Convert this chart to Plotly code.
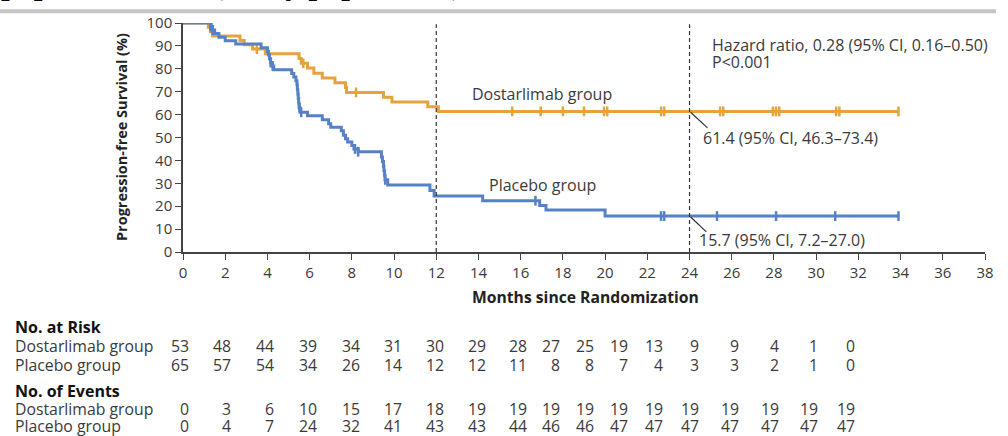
import plotly.graph_objects as go

# ---- data -------------------------------------------------------------
# Kaplan-Meier step points (months, % progression-free)
dostar_t = [0, 1.2, 1.3, 1.4, 2.7, 2.9, 3.3, 3.9, 5.5, 5.6, 5.9, 6.2, 6.6, 7.2, 7.7, 7.75,
            9.5, 9.9, 11.6, 12.1, 33.9]
dostar_s = [100, 98.1, 96.2, 94.3, 92.4, 90.5, 88.6, 86.6, 84.5, 82.4, 80.3, 78.1, 76.0, 73.9,
            71.8, 69.7, 67.6, 65.5, 63.4, 61.4, 61.4]
dostar_cens_t = [3.5, 5.7, 8.2, 15.6, 16.95, 18.0, 19.0, 19.95, 20.1, 22.65, 22.8, 25.45, 25.6,
                 27.95, 28.1, 28.25, 30.95, 31.1, 33.9]

placebo_t = [0, 1.3, 1.4, 1.5, 1.7, 2.0, 2.5, 3.7, 4.0, 4.05, 4.1, 4.15, 4.2, 4.3, 5.15, 5.25,
             5.35, 5.4, 5.42, 5.44, 5.46, 5.48, 5.5, 5.55, 5.9, 6.6, 6.9, 7.0, 7.5, 7.6, 7.7,
             7.8, 8.0, 8.1, 8.3, 9.4, 9.45, 9.5, 9.52, 9.55, 9.57, 9.7, 11.7, 11.9, 14.2,
             16.9, 17.2, 20.0, 33.9]
placebo_s = [100, 98.5, 96.9, 95.4, 93.8, 92.3, 90.8, 89.2, 87.6, 86.0, 84.4, 82.8, 81.2, 79.6,
             78.0, 76.4, 74.8, 73.0, 71.0, 69.0, 67.0, 65.0, 63.0, 61.0, 59.5, 57.8, 56.0, 54.5,
             53.0, 51.0, 49.5, 48.0, 46.5, 45.0, 43.8, 41.5, 39.5, 37.5, 35.5, 33.5, 31.5, 29.3,
             26.9, 24.4, 22.4, 20.3, 18.3, 15.7, 15.7]
placebo_cens_t = [1.3, 1.35, 1.4, 4.15, 4.25, 5.52, 5.6, 8.15, 8.3, 9.58, 16.7, 22.65, 22.8,
                  25.3, 28.1, 30.9, 33.9]

months_ticks = list(range(0, 39, 2))
risk_months = list(range(0, 35, 2))
risk_dostar = [53, 48, 44, 39, 34, 31, 30, 29, 28, 27, 25, 19, 13, 9, 9, 4, 1, 0]
risk_placebo = [65, 57, 54, 34, 26, 14, 12, 12, 11, 8, 8, 7, 4, 3, 3, 2, 1, 0]
events_dostar = [0, 3, 6, 10, 15, 17, 18, 19, 19, 19, 19, 19, 19, 19, 19, 19, 19, 19]
events_placebo = [0, 4, 7, 24, 32, 41, 43, 43, 44, 46, 46, 47, 47, 47, 47, 47, 47, 47]

# ---- styling ----------------------------------------------------------
ORANGE = "#E6A23C"
BLUE = "#5681C6"
TXT = "#3a3a3a"
FONT = "Open Sans"

W, H = 1008, 436
L, R, T, B = 183, 23, 19, 184
PW, PH = W - L - R, H - T - B


def px(x):
    return (x - L) / PW


def py(y):
    return (H - B - y) / PH


def step_value(ts, ss, t):
    val = ss[0]
    for ti, si in zip(ts, ss):
        if ti <= t:
            val = si
    return val


fig = go.Figure()

for ts, ss, cens, col, name in [
    (dostar_t, dostar_s, dostar_cens_t, ORANGE, "Dostarlimab group"),
    (placebo_t, placebo_s, placebo_cens_t, BLUE, "Placebo group"),
]:
    fig.add_trace(go.Scatter(x=ts, y=ss, mode="lines", line=dict(color=col, width=3, shape="hv"),
                             name=name, showlegend=False, hoverinfo="skip"))
    fig.add_trace(go.Scatter(x=cens, y=[step_value(ts, ss, c) for c in cens], mode="markers",
                             marker=dict(symbol="line-ns", size=7,
                                         line=dict(color=col, width=2.5)),
                             showlegend=False, hoverinfo="skip"))

# dashed reference lines at 12 and 24 months
for m in (12, 24):
    fig.add_shape(type="line", x0=m, x1=m, y0=0, y1=99.5, xref="x", yref="y",
                  line=dict(color="#333333", width=1.2, dash="4px,3px"))

# leader lines to the 24-month estimates
fig.add_shape(type="line", x0=24.05, y0=61.0, x1=24.85, y1=54.2, line=dict(color="#333", width=1.2))
fig.add_shape(type="line", x0=24.05, y0=15.3, x1=24.8, y1=8.8, line=dict(color="#333", width=1.2))

ann = []


def text(x, y, s, size=16, bold=False, xanchor="left", xref="x", yref="y", color=TXT, **kw):
    ann.append(dict(x=x, y=y, xref=xref, yref=yref, text=f"<b>{s}</b>" if bold else s,
                    showarrow=False, xanchor=xanchor, yanchor="middle",
                    font=dict(family=FONT, size=size, color=color), **kw))


text(24.98, 90.3, "Hazard ratio, 0.28 (95% CI, 0.16–0.50)")
text(24.98, 83.0, "P<0.001")
text(13.6, 68.8, "Dostarlimab group")
text(14.4, 29.3, "Placebo group")
text(24.55, 50.0, "61.4 (95% CI, 46.3–73.4)")
text(24.35, 5.3, "15.7 (95% CI, 7.2–27.0)")

# axis titles
text(px(121), py(135), "Progression-free Survival (%)", size=14.5, bold=True, xanchor="center",
     xref="paper", yref="paper", textangle=-90, color="#222")
text(px(585), py(298), "Months since Randomization", size=15.7, bold=True, xanchor="center",
     xref="paper", yref="paper", color="#222")

# numbers-at-risk table
col_centers = [182, 224, 267, 310, 353, 395, 437, 479, 520, 553, 587, 621, 656, 692, 732, 772, 811, 848]
rows = [
    (328, "No. at Risk", None, True),
    (348, "Dostarlimab group", risk_dostar, False),
    (367, "Placebo group", risk_placebo, False),
    (393, "No. of Events", None, True),
    (412, "Dostarlimab group", events_dostar, False),
    (429, "Placebo group", events_placebo, False),
]
for yy, label, vals, bold in rows:
    text(px(13), py(yy), label, size=16 if bold else 15.8, bold=bold, xref="paper", yref="paper",
         color="#111" if bold else TXT)
    if vals:
        for m, v, cx in zip(risk_months, vals, col_centers):
            text(px(cx + 9), py(yy), str(v), size=15.8, xanchor="right", xref="paper", yref="paper")

# running header, clipped by the top edge of the page
for xx, s in [(-1, "population"), (211, "(Study population)")]:
    ann.append(dict(x=px(xx), y=py(4), xref="paper", yref="paper", text=f"<b>{s}</b>",
                    showarrow=False, xanchor="left", yanchor="bottom", yshift=5,
                    font=dict(family="Liberation Serif", size=31, color="#000")))
fig.add_shape(type="line", xref="paper", yref="paper", x0=px(0), x1=px(996), y0=py(7), y1=py(7),
              line=dict(color="#c6c6c6", width=4))

fig.update_layout(
    width=W, height=H, margin=dict(l=L, r=R, t=T, b=B),
    paper_bgcolor="white", plot_bgcolor="white",
    annotations=ann, showlegend=False,
    font=dict(family=FONT, color=TXT),
)
fig.update_xaxes(range=[0, 38], tickvals=months_ticks, ticks="outside", ticklen=6, tickwidth=1.3,
                 tickcolor="#444", showline=True, linecolor="#444", linewidth=1.5, showgrid=False,
                 zeroline=False, tickfont=dict(size=15, color=TXT, family=FONT))
fig.update_yaxes(range=[0, 100], tickvals=list(range(0, 101, 10)), ticks="outside", ticklen=6,
                 tickwidth=1.3, tickcolor="#444", showline=True, linecolor="#444", linewidth=1.5,
                 showgrid=False, zeroline=False, tickfont=dict(size=15, color=TXT, family=FONT))

fig.write_html("out.html")
